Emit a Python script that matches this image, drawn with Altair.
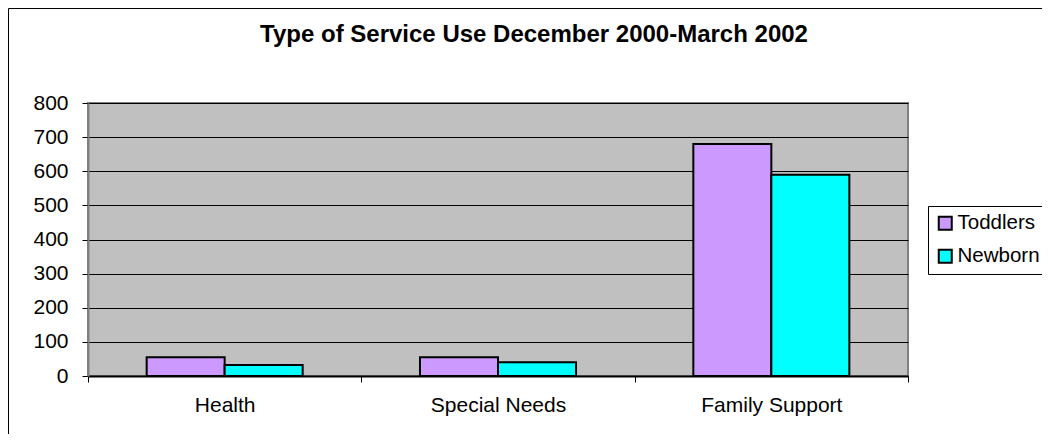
import altair as alt
import pandas as pd

categories = ["Health", "Special Needs", "Family Support"]
series = ["Toddlers", "Newborn"]
toddlers = [55, 55, 680]
newborn = [32, 40, 590]
colors = ["#CC99FF", "#00FFFF"]
y_ticks = [0, 100, 200, 300, 400, 500, 600, 700, 800]
title_text = "Type of Service Use December 2000-March 2002"

rows = []
for c, t, n in zip(categories, toddlers, newborn):
    rows.append({"category": c, "series": series[0], "value": t})
    rows.append({"category": c, "series": series[1], "value": n})
df = pd.DataFrame(rows)

FONT = "Liberation Sans"

border = alt.Chart(pd.DataFrame({"a": [0]})).mark_rect(
    fill="transparent", stroke="black", strokeWidth=1
).encode(
    x=alt.value(-79.5), x2=alt.value(1200),
    y=alt.value(-94.5), y2=alt.value(600),
)

bars = alt.Chart(df).mark_bar(stroke="black", strokeWidth=2).encode(
    x=alt.X(
        "category:N", sort=categories,
        scale=alt.Scale(paddingInner=0, paddingOuter=0),
        axis=alt.Axis(
            title=None, labelAngle=0, tickBand="extent", labelFontSize=21,
            labelFont=FONT, labelColor="black", labelPadding=12, tickSize=6,
            domainColor="black", domainWidth=2, tickColor="black", tickWidth=1,
            grid=False,
        ),
    ),
    xOffset=alt.XOffset("series:N", sort=series,
                        scale=alt.Scale(paddingInner=0, paddingOuter=0.752)),
    y=alt.Y(
        "value:Q", scale=alt.Scale(domain=[0, 800]),
        axis=alt.Axis(
            title=None, values=y_ticks, labelFontSize=21, labelFont=FONT,
            labelColor="black", labelPadding=14, tickSize=6, tickColor="black",
            domainColor="#808080", domainWidth=2, grid=True, gridColor="black",
            gridWidth=1,
        ),
    ),
    color=alt.Color(
        "series:N", sort=series,
        scale=alt.Scale(domain=series, range=colors),
        legend=alt.Legend(
            title=None, orient="none", legendX=840, legendY=103,
            symbolType="square", symbolSize=169, symbolStrokeColor="black",
            symbolStrokeWidth=2, labelFontSize=20.5, labelFont=FONT,
            labelColor="black", rowPadding=11, padding=7, strokeColor="black",
            fillColor="white", labelOffset=2,
        ),
    ),
)

chart = alt.layer(border, bars).properties(
    width=820, height=273,
    title=alt.TitleParams(
        title_text, anchor="middle", frame="group", fontSize=24, font=FONT,
        fontWeight="bold", color="black", baseline="middle", offset=0, dy=51,
        dx=36,
    ),
    autosize=alt.AutoSizeParams(type="none"),
    padding={"left": 80, "top": 95, "right": 134, "bottom": 58},
    background="white",
).configure_view(
    fill="#C0C0C0", stroke="#808080", strokeWidth=2
)

chart.save("out.html", embed_options={"renderer": "svg", "actions": False})
